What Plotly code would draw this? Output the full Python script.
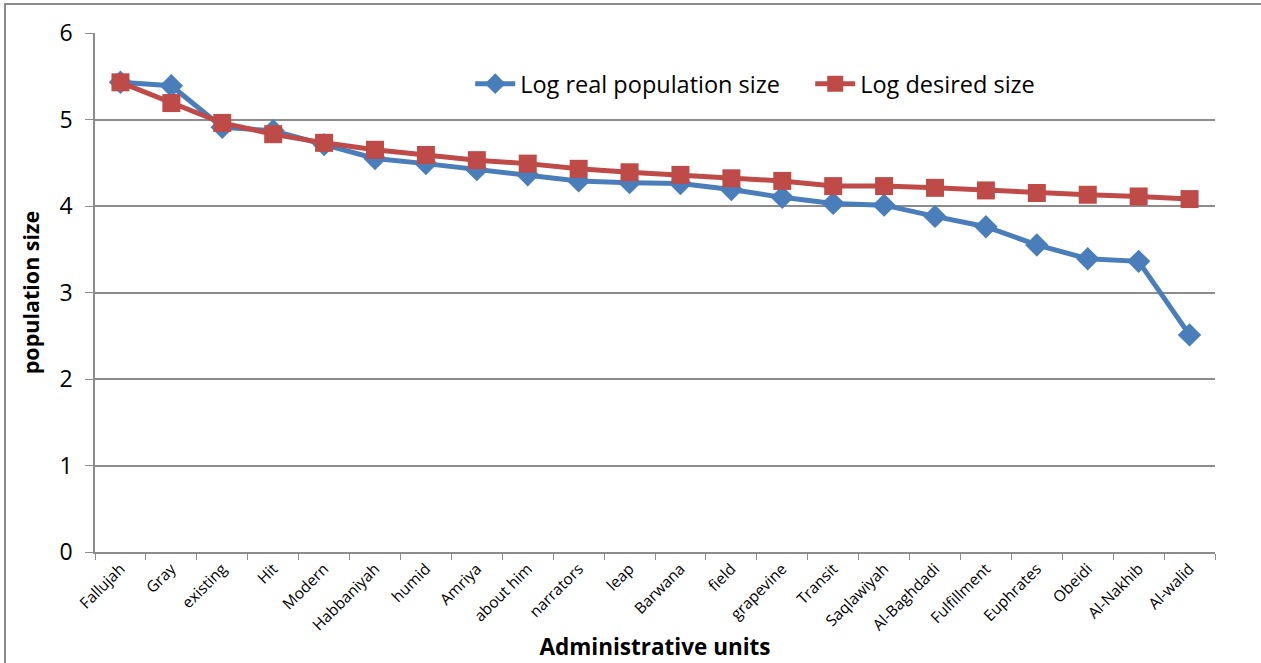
import plotly.graph_objects as go

units = ["Fallujah", "Gray", "existing", "Hit", "Modern", "Habbaniyah", "humid",
         "Amriya", "about him", "narrators", "leap", "Barwana", "field", "grapevine",
         "Transit", "Saqlawiyah", "Al-Baghdadi", "Fulfillment", "Euphrates", "Obeidi",
         "Al-Nakhib", "Al-walid"]

log_real = [5.43, 5.39, 4.91, 4.87, 4.71, 4.55, 4.49, 4.42, 4.36, 4.29, 4.27,
            4.26, 4.19, 4.10, 4.03, 4.01, 3.88, 3.76, 3.55, 3.39, 3.36, 2.51]

log_desired = [5.43, 5.19, 4.96, 4.83, 4.73, 4.65, 4.59, 4.53, 4.49, 4.43, 4.39,
               4.36, 4.32, 4.29, 4.23, 4.23, 4.21, 4.18, 4.15, 4.13, 4.11, 4.08]

y_ticks = [0, 1, 2, 3, 4, 5, 6]

FONT = "Open Sans"
GRID = "#8c8c8c"

fig = go.Figure()
fig.add_trace(go.Scatter(
    x=units, y=log_real, name="Log real population size", mode="lines+markers",
    line=dict(color="#4a7ebb", width=5),
    marker=dict(symbol="diamond", size=18, color="#4a7ebb"),
))
fig.add_trace(go.Scatter(
    x=units, y=log_desired, name="Log desired size", mode="lines+markers",
    line=dict(color="#be4b48", width=5),
    marker=dict(symbol="square", size=18, color="#be4b48"),
))

fig.update_layout(
    width=1261, height=663,
    margin=dict(l=95, r=46, t=33, b=111, autoexpand=False),
    paper_bgcolor="white", plot_bgcolor="white",
    font=dict(family=FONT, color="black"),
    showlegend=True,
    legend=dict(
        orientation="h", x=0.335, y=0.902, xanchor="left", yanchor="middle",
        font=dict(family=FONT, size=23.5, color="black"),
        bgcolor="rgba(0,0,0,0)", itemwidth=40,
        entrywidth=285, entrywidthmode="pixels",
    ),
    xaxis=dict(
        type="category", tickangle=-45, tickfont=dict(size=15.5, family=FONT),
        showline=True, linecolor=GRID, linewidth=1.5,
        ticks="outside", tickson="boundaries", ticklen=6, tickcolor=GRID,
        showgrid=False, range=[-0.5, len(units) - 0.5], automargin=False,
        title=dict(text="<b>Administrative units</b>", font=dict(size=22.5, family=FONT), standoff=5),
    ),
    yaxis=dict(
        range=[0, 6], tickvals=y_ticks, tickfont=dict(size=23, family=FONT),
        showline=True, linecolor=GRID, linewidth=1.5,
        ticks="outside", ticklen=8, tickcolor=GRID, ticklabelstandoff=8,
        showgrid=True, gridcolor=GRID, gridwidth=1.5, zeroline=False, automargin=False,
        title=dict(text="<b>population size</b>", font=dict(size=21.5, family=FONT), standoff=14),
    ),
    shapes=[dict(
        type="rect", xref="paper", yref="paper",
        x0=(5 - 95) / 1120, x1=(1275 - 95) / 1120,
        y0=(552 - 680) / 519, y1=(552 - 4) / 519,
        line=dict(color="#8c8c8c", width=2), fillcolor="rgba(0,0,0,0)", layer="below",
    )],
)

fig.write_html("out.html")
